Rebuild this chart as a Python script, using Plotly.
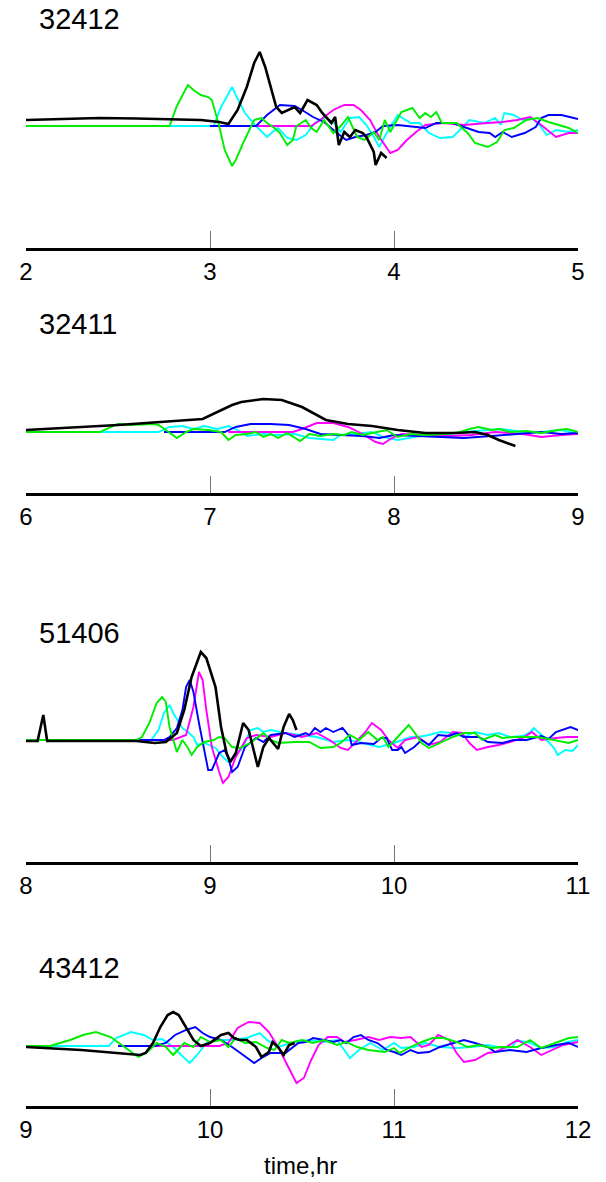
import plotly.graph_objects as go

# ---------------- data (time in hr, amplitude in cm) ----------------
stations = ["32412", "32411", "51406", "43412"]
x_ranges = [[2, 5], [6, 9], [8, 11], [9, 12]]
tick_values = [[2, 3, 4, 5], [6, 7, 8, 9], [8, 9, 10, 11], [9, 10, 11, 12]]
tick_labels = [["2", "3", "4", "5"], ["6", "7", "8", "9"], ["8", "9", "10", "11"], ["9", "10", "11", "12"]]
x_title = "time,hr"

# 32412
s32412_black = [(2.0, 0.6), (2.2, 0.7), (2.4, 0.8), (2.6, 0.75), (2.8, 0.7), (2.95, 0.6), (3.05, 0.4), (3.10, 0.2),
                (3.15, 1.6), (3.20, 3.9), (3.24, 6.3), (3.27, 7.4), (3.30, 5.9), (3.33, 3.9), (3.36, 1.9), (3.39, 1.3),
                (3.46, 1.9), (3.49, 1.3), (3.53, 2.6), (3.58, 2.1), (3.61, 1.3), (3.66, 0.3), (3.68, 0.9), (3.70, -1.9),
                (3.73, -0.6), (3.76, -1.1), (3.79, -0.4), (3.83, -0.7), (3.85, -1.1), (3.89, -2.6), (3.90, -3.9),
                (3.93, -2.7), (3.96, -3.2)]
s32412_green = [(2.0, 0), (2.78, 0), (2.82, 2.0), (2.88, 4.1), (2.91, 3.6), (2.95, 3.1), (2.99, 2.9), (3.01, 2.6),
                (3.05, 0), (3.08, -2.4), (3.12, -4.0), (3.14, -3.4), (3.18, -1.7), (3.24, 0.6), (3.28, 0.8), (3.31, 0.3),
                (3.35, -0.2), (3.38, -0.7), (3.42, -1.9), (3.45, -1.4), (3.47, 0), (3.52, 0.6), (3.55, -0.2),
                (3.58, -0.6), (3.62, 0.6), (3.67, -0.7), (3.71, 0), (3.75, 0.9), (3.80, -1.1), (3.84, -1.4),
                (3.89, -0.6), (3.92, -1.4), (3.95, 0.6), (3.98, -0.6), (4.04, 1.4), (4.10, 1.8), (4.14, 0.8),
                (4.17, 1.3), (4.20, 0.9), (4.23, 1.4), (4.26, 0.3), (4.34, 0.3), (4.40, -0.7), (4.44, -1.7),
                (4.51, -2.1), (4.56, -1.6), (4.60, -0.4), (4.65, -0.2), (4.72, 0.6), (4.78, 0.8), (4.84, 0.4),
                (4.90, 0.1), (4.95, -0.2), (5.0, -0.7)]
s32412_cyan = [(2.0, 0), (3.02, 0), (3.06, 1.9), (3.12, 3.9), (3.14, 3.1), (3.19, 1.3), (3.25, 0), (3.31, -1.1),
               (3.34, -0.6), (3.37, -0.2), (3.42, -1.2), (3.47, -1.4), (3.52, -0.9), (3.57, 0.3), (3.62, 0.9),
               (3.67, 0.4), (3.71, -0.6), (3.76, 0.8), (3.81, 0.9), (3.85, 0.1), (3.89, -1.1), (3.92, -2.1),
               (3.96, -0.7), (4.02, 1.1), (4.09, 0.3), (4.14, 0.3), (4.19, -0.7), (4.25, -1.2), (4.32, -1.1),
               (4.37, -0.1), (4.41, 0.6), (4.49, 0.3), (4.55, 0.8), (4.58, 0.1), (4.60, 1.3), (4.65, 1.1),
               (4.70, 0.6), (4.75, 0.8), (4.79, 0.1), (4.83, -0.9), (4.88, -0.4), (4.95, -0.6), (5.0, -0.4)]
s32412_blue = [(3.0, 0), (3.25, 0), (3.31, 1.1), (3.38, 2.1), (3.46, 2.0), (3.50, 1.6), (3.56, 0.9), (3.62, 0.4),
               (3.69, -0.7), (3.74, -1.4), (3.79, -1.1), (3.85, -0.9), (3.90, -0.6), (3.94, 0), (4.02, 0.1),
               (4.11, -0.1), (4.17, -0.2), (4.23, 0.3), (4.32, 0.3), (4.38, -0.1), (4.46, -0.6), (4.52, -0.7),
               (4.55, -1.1), (4.59, -0.6), (4.64, -1.1), (4.71, -0.7), (4.77, -0.1), (4.80, 0.8), (4.84, 1.1),
               (4.91, 1.1), (4.96, 0.9), (5.0, 0.7)]
s32412_magenta = [(3.25, 0), (3.55, 0), (3.60, 0.6), (3.67, 1.6), (3.73, 2.1), (3.78, 2.1), (3.82, 1.6), (3.87, 0.6),
                  (3.92, -1.1), (3.98, -2.7), (4.02, -2.4), (4.07, -1.4), (4.12, -0.6), (4.17, 0.1), (4.27, 0.3),
                  (4.38, 0.1), (4.51, 0.3), (4.59, 0.4), (4.67, 0.6), (4.74, 0.9), (4.80, 0.1), (4.85, -0.6),
                  (4.88, -1.1), (4.95, -0.7), (5.0, -0.7)]

# 32411
s32411_black = [(6.0, 0.2), (6.5, 0.7), (6.96, 1.3), (7.06, 2.2), (7.12, 2.7), (7.17, 3.0), (7.29, 3.3), (7.39, 3.2),
                (7.50, 2.5), (7.63, 1.2), (7.75, 0.8), (7.88, 0.6), (8.02, 0.2), (8.17, -0.1), (8.34, -0.1),
                (8.44, 0), (8.51, -0.3), (8.57, -0.8), (8.66, -1.4)]
s32411_green = [(6.0, 0), (6.40, 0), (6.50, 0.8), (6.57, 0.7), (6.69, 0.8), (6.72, 0.7), (6.76, 0.2), (6.82, -0.6),
                (6.87, 0), (6.91, 0.3), (6.99, 0.2), (7.06, 0), (7.10, -0.8), (7.14, -0.3), (7.20, -0.2), (7.25, 0),
                (7.29, -0.5), (7.33, -0.2), (7.37, -0.6), (7.42, -0.1), (7.49, -0.9), (7.54, -0.2), (7.60, -0.4),
                (7.67, -0.2), (7.73, -0.3), (7.77, 0), (7.83, -0.3), (7.90, 0), (7.96, 0.2), (8.02, -0.5),
                (8.09, -0.2), (8.17, -0.3), (8.28, -0.2), (8.36, 0), (8.41, 0.3), (8.46, 0.5), (8.53, 0.2),
                (8.57, 0.3), (8.63, 0), (8.72, 0.1), (8.80, -0.1), (8.89, 0.2), (8.94, 0.3), (9.0, 0)]
s32411_cyan = [(6.0, 0), (6.72, 0), (6.78, 0.5), (6.85, 0.6), (6.91, 0.3), (6.97, 0.6), (7.04, 0.3), (7.10, 0.6),
               (7.16, 0.1), (7.20, -0.4), (7.29, -0.2), (7.37, -0.3), (7.46, -0.2), (7.54, -0.6), (7.67, -0.8),
               (7.71, -0.3), (7.79, -0.2), (7.88, 0), (7.94, -0.5), (8.02, -0.8), (8.11, -0.5), (8.19, -0.3),
               (8.30, -0.2), (8.38, 0), (8.51, 0.2), (8.59, 0.3), (8.70, 0), (8.80, 0), (8.91, 0.2), (9.0, -0.2)]
s32411_blue = [(6.75, 0), (7.08, 0), (7.14, 0.5), (7.22, 0.8), (7.33, 0.8), (7.43, 0.7), (7.52, 0.3), (7.60, -0.2),
               (7.71, -0.3), (7.83, -0.4), (7.92, -0.6), (8.0, -0.3), (8.13, -0.4), (8.25, -0.5), (8.38, -0.6),
               (8.53, -0.4), (8.65, -0.2), (8.80, 0), (8.91, -0.2), (9.0, -0.1)]
s32411_magenta = [(7.1, 0), (7.45, 0), (7.50, 0.3), (7.58, 0.9), (7.67, 0.9), (7.75, 0.5), (7.83, -0.2), (7.90, -1.0),
                  (7.94, -1.2), (7.98, -0.7), (8.04, -0.2), (8.17, -0.3), (8.30, -0.4), (8.42, -0.3), (8.55, 0),
                  (8.70, -0.2), (8.80, -0.5), (8.91, -0.3), (9.0, -0.2)]

# 51406
s51406_black = [(8.0, -0.1), (8.063, -0.1), (8.094, 2.5), (8.115, -0.1), (8.3, -0.1), (8.6, -0.1), (8.70, -0.3),
                (8.76, -0.2), (8.82, 0.7), (8.86, 3.0), (8.90, 6.3), (8.95, 8.8), (8.98, 8.2), (9.03, 5.3),
                (9.06, 1.3), (9.09, -1.3), (9.11, -2.2), (9.14, -1.3), (9.18, 1.7), (9.21, 1.0), (9.26, -2.7),
                (9.29, -0.7), (9.32, 0.2), (9.34, -0.2), (9.37, -0.9), (9.40, 1.3), (9.43, 2.6), (9.45, 2.0),
                (9.47, 1.0)]
s51406_blue = [(8.3, 0), (8.75, 0), (8.78, 0.3), (8.82, 1.2), (8.85, 3.0), (8.87, 5.3), (8.89, 6.0), (8.91, 4.8),
               (8.94, 1.7), (8.97, -1.0), (8.99, -3.0), (9.01, -3.0), (9.05, -1.3), (9.08, -1.0), (9.10, -1.8),
               (9.12, -3.2), (9.15, -2.7), (9.19, -0.7), (9.25, 0.2), (9.29, -0.2), (9.33, 0.5), (9.41, 0.7),
               (9.46, 0.3), (9.52, 0.7), (9.54, 0.5), (9.57, 1.2), (9.60, 0.8), (9.63, 1.2), (9.67, 0.8),
               (9.72, 1.2), (9.76, 0.3), (9.77, -0.5), (9.82, -0.3), (9.89, -0.4), (9.93, 0.2), (9.96, 0.2),
               (9.99, -1.0), (10.02, -1.0), (10.04, -0.7), (10.06, -1.3), (10.11, -0.7), (10.15, 0), (10.19, -0.5),
               (10.24, 0.5), (10.30, 0.4), (10.34, 0.7), (10.38, 0.3), (10.46, 0.3), (10.51, -0.2), (10.59, -0.3),
               (10.65, 0), (10.72, 0), (10.80, 0.4), (10.84, 0.1), (10.88, 0.8), (10.96, 1.3), (11.0, 1.0)]
s51406_magenta = [(8.3, 0), (8.80, 0), (8.87, 0.5), (8.91, 3.3), (8.94, 6.8), (8.96, 6.0), (8.98, 3.0), (9.01, -0.7),
                  (9.05, -3.2), (9.07, -4.3), (9.10, -3.7), (9.14, -1.7), (9.20, 0.2), (9.25, 0.5), (9.33, 0.3),
                  (9.41, 0.7), (9.50, 0.3), (9.58, 0.7), (9.65, 0), (9.71, -0.8), (9.75, -1.0), (9.80, 0),
                  (9.84, 0.7), (9.88, 1.7), (9.93, 1.0), (9.97, 0), (10.02, -0.8), (10.06, 0), (10.13, 0.3),
                  (10.19, -0.5), (10.25, -0.2), (10.32, 0.8), (10.37, 0.7), (10.41, -0.3), (10.45, -1.0),
                  (10.51, -0.7), (10.57, -0.5), (10.63, -0.2), (10.70, 0.2), (10.75, 0.8), (10.80, 0),
                  (10.88, 0.2), (10.94, 0.3), (11.0, 0.3)]
s51406_green = [(8.0, 0), (8.60, 0), (8.63, 0.3), (8.67, 1.7), (8.71, 3.7), (8.74, 4.3), (8.76, 3.8), (8.78, 1.3),
                (8.82, -1.2), (8.85, 0), (8.88, -0.8), (8.90, -1.5), (8.93, -0.7), (8.97, -0.2), (9.02, 0),
                (9.05, 0.3), (9.08, 0.2), (9.12, -0.7), (9.16, -0.8), (9.22, -0.3), (9.29, 0.7), (9.33, 0),
                (9.37, -0.3), (9.46, -0.2), (9.54, -0.2), (9.60, -0.8), (9.67, -0.7), (9.71, -0.3), (9.76, 0.5),
                (9.81, 0), (9.86, 0.8), (9.91, 0), (9.94, 0.3), (9.97, -0.7), (10.02, 0.3), (10.08, 1.5),
                (10.11, 0.8), (10.15, -0.3), (10.19, -0.8), (10.25, -0.3), (10.32, 0.3), (10.38, 0.7),
                (10.44, 0.7), (10.48, 0), (10.55, 0.5), (10.59, 0.2), (10.65, 0.3), (10.72, 0.3), (10.78, 0.3),
                (10.84, 0.1), (10.91, -0.2), (10.95, -0.3), (11.0, 0)]
s51406_cyan = [(8.3, 0), (8.68, 0), (8.72, 1.0), (8.75, 2.7), (8.78, 3.5), (8.80, 2.7), (8.85, 1.2), (8.88, 0.8),
               (8.91, 0.3), (8.93, -0.5), (8.97, -0.3), (9.03, -0.8), (9.07, -1.7), (9.10, -2.2), (9.14, -1.5),
               (9.18, -0.7), (9.22, 1.0), (9.26, 1.2), (9.29, 0.8), (9.33, 1.0), (9.41, 0.7), (9.50, 0.5),
               (9.58, 0.3), (9.67, -0.2), (9.75, 0), (9.83, -0.3), (9.92, -0.7), (10.0, -0.3), (10.09, 0.3),
               (10.13, 0.3), (10.19, 0.5), (10.25, 0.8), (10.32, 0.7), (10.38, 0.3), (10.44, 0.8), (10.51, 0.5),
               (10.57, 0.7), (10.63, 0.3), (10.70, 0.4), (10.74, 0.8), (10.76, 1.2), (10.82, 0.2), (10.87, -0.8),
               (10.89, -1.5), (10.93, -1.0), (10.97, -1.1), (11.0, -0.5)]

# 43412
s43412_black = [(9.0, -0.1), (9.3, -0.4), (9.62, -0.9), (9.65, -0.7), (9.69, 0.3), (9.73, 1.9), (9.77, 3.1),
                (9.80, 3.4), (9.83, 3.1), (9.87, 1.8), (9.91, 0.6), (9.95, 0), (10.0, 0.3), (10.06, 1.1),
                (10.10, 1.3), (10.13, 0.8), (10.16, 0.6), (10.20, 0.6), (10.25, -0.1), (10.28, -1.1), (10.32, -0.6),
                (10.34, 0.4), (10.37, -0.1), (10.40, -0.9), (10.43, 0.1), (10.46, 0.3)]
s43412_green = [(9.0, 0), (9.13, 0), (9.24, 0.6), (9.31, 1.1), (9.38, 1.4), (9.46, 0.9), (9.52, 0.1), (9.61, -1.1),
                (9.66, -0.6), (9.71, 0.3), (9.76, -0.1), (9.80, -0.9), (9.86, 0.3), (9.91, -0.1), (9.95, 0.9),
                (10.0, 0.4), (10.06, 0.6), (10.10, -0.1), (10.14, 0.8), (10.19, 0.3), (10.25, 0.4), (10.31, -0.2),
                (10.35, -0.4), (10.39, 0.6), (10.43, 0.3), (10.50, 0.6), (10.56, 0.3), (10.62, 0.6), (10.69, 0.1),
                (10.74, 0.4), (10.80, -0.1), (10.86, -0.4), (10.95, -0.6), (11.0, -0.2), (11.03, -0.7),
                (11.09, -0.1), (11.15, 0.4), (11.21, 0.8), (11.27, 0.8), (11.34, 0.4), (11.40, -0.1), (11.46, 0.1),
                (11.53, -0.2), (11.59, -0.1), (11.67, -0.1), (11.74, 0.6), (11.80, -0.2), (11.88, 0.3),
                (11.95, 0.8), (12.0, 0.9)]
s43412_cyan = [(9.0, 0), (9.45, 0), (9.49, 0.8), (9.57, 1.4), (9.64, 1.1), (9.69, 0.6), (9.74, 0.7), (9.80, -0.1),
               (9.86, -1.2), (9.89, -1.7), (9.93, -0.9), (9.98, 0.3), (10.04, 0.6), (10.12, 0.6), (10.20, 0.8),
               (10.27, 1.3), (10.31, 0.6), (10.37, -0.1), (10.46, 0.4), (10.54, 0.6), (10.62, 0.4), (10.69, 0.6),
               (10.73, -0.4), (10.76, -1.2), (10.81, -0.4), (10.87, 0.3), (10.94, -0.4), (11.0, 0.3),
               (11.04, -0.2), (11.11, -0.1), (11.17, 0.3), (11.25, -0.1), (11.34, -0.2), (11.42, -0.1),
               (11.51, 0.1), (11.59, -0.2), (11.64, -0.1), (11.67, 0.6), (11.74, 0.3), (11.80, -0.2),
               (11.88, -0.1), (11.94, 0.4), (12.0, 0.6)]
s43412_blue = [(9.5, 0), (9.70, 0), (9.76, 0.3), (9.81, 1.1), (9.87, 1.6), (9.92, 1.9), (9.96, 1.3), (10.0, 0.9),
               (10.06, 0.6), (10.12, -0.1), (10.18, -0.9), (10.24, -1.7), (10.28, -1.2), (10.33, -0.7),
               (10.41, -0.7), (10.48, 0.3), (10.52, 0.4), (10.56, 0.8), (10.62, 0.6), (10.67, 0.4), (10.71, 0.6),
               (10.74, 0.3), (10.78, 0.9), (10.82, 1.1), (10.86, 0.6), (10.91, 0.3), (10.96, -0.4), (11.0, -0.6),
               (11.04, -0.9), (11.09, -0.4), (11.13, -0.7), (11.19, -0.6), (11.25, -0.1), (11.32, 0.3),
               (11.38, 0.6), (11.44, 0.3), (11.51, -0.1), (11.55, -0.6), (11.63, -0.4), (11.72, -0.6),
               (11.80, -0.2), (11.88, 0.1), (11.95, 0.3), (12.0, -0.1)]
s43412_magenta = [(9.7, 0), (10.05, 0), (10.10, 0.3), (10.15, 1.8), (10.21, 2.4), (10.27, 2.3), (10.32, 1.4),
                  (10.37, -0.1), (10.42, -1.9), (10.47, -3.7), (10.51, -3.2), (10.55, -1.4), (10.59, 0.1),
                  (10.64, 0.9), (10.69, 0.9), (10.73, 0.4), (10.79, 0.6), (10.86, 0.9), (10.92, 0.6), (10.98, 0.9),
                  (11.04, 0.8), (11.09, 0.9), (11.15, -0.1), (11.19, 0.1), (11.24, 1.1), (11.30, 0.6),
                  (11.34, -0.7), (11.38, -1.6), (11.44, -1.4), (11.51, -0.7), (11.55, -0.6), (11.61, -0.1),
                  (11.67, 0.6), (11.74, -0.1), (11.80, -0.9), (11.86, -0.4), (11.92, 0.1), (12.0, 0.4)]

series = [
    [s32412_cyan, s32412_magenta, s32412_blue, s32412_green, s32412_black],
    [s32411_cyan, s32411_magenta, s32411_blue, s32411_green, s32411_black],
    [s51406_cyan, s51406_magenta, s51406_blue, s51406_green, s51406_black],
    [s43412_cyan, s43412_magenta, s43412_blue, s43412_green, s43412_black],
]
colors = ["#00ffff", "#ff00ff", "#0000ff", "#00ee00", "#000000"]
widths = [1.9, 1.9, 1.9, 1.9, 2.6]

# ---------------- layout (pixel geometry) ----------------
W, H = 606, 1182
x_left, x_right = 26, 578
# per panel: top px, baseline px, axis px, title centre px
panel_px = [(30, 126, 248, 19), (340, 432, 493, 324), (640, 740, 862, 633), (990, 1046, 1106, 968)]
PX_PER_UNIT = 10.0

fig = go.Figure()
layout = dict(
    width=W, height=H, margin=dict(l=0, r=0, t=0, b=0, autoexpand=False),
    paper_bgcolor="white", plot_bgcolor="white", showlegend=False,
    font=dict(family="Liberation Sans, Arial, sans-serif", color="black"),
)
annotations = []
for i, (name, panel) in enumerate(zip(stations, series)):
    k = "" if i == 0 else str(i + 1)
    top, base, axis, title_y = panel_px[i]
    for data, col, w in zip(panel, colors, widths):
        fig.add_trace(go.Scatter(
            x=[p[0] for p in data], y=[p[1] for p in data], mode="lines",
            line=dict(color=col, width=w), xaxis="x" + k, yaxis="y" + k, hoverinfo="skip",
            cliponaxis=False))
    layout["xaxis" + k] = dict(
        domain=[x_left / W, x_right / W], anchor="y" + k, range=x_ranges[i],
        tickvals=tick_values[i], ticktext=tick_labels[i], ticks="inside", ticklen=17,
        tickwidth=1, tickcolor="#777777", showline=True, linecolor="black", linewidth=2.5,
        showgrid=False, zeroline=False, tickfont=dict(size=24, color="black"),
        fixedrange=True, automargin=False,
    )
    layout["yaxis" + k] = dict(
        domain=[1 - axis / H, 1 - top / H], anchor="x" + k,
        range=[-(axis - base) / PX_PER_UNIT, (base - top) / PX_PER_UNIT],
        visible=False, fixedrange=True, automargin=False,
    )
    annotations.append(dict(
        text=name, x=37 / W, y=1 - title_y / H, xref="paper", yref="paper",
        xanchor="left", yanchor="middle", showarrow=False, font=dict(size=29, color="black")))

annotations.append(dict(
    text=x_title, x=300 / W, y=1 - 1165 / H, xref="paper", yref="paper",
    xanchor="center", yanchor="middle", showarrow=False, font=dict(size=24, color="black")))
layout["annotations"] = annotations
fig.update_layout(**layout)
fig.write_html("out.html", config={"displayModeBar": False},
               post_script="document.body.style.margin='0';document.body.style.overflow='hidden';")
